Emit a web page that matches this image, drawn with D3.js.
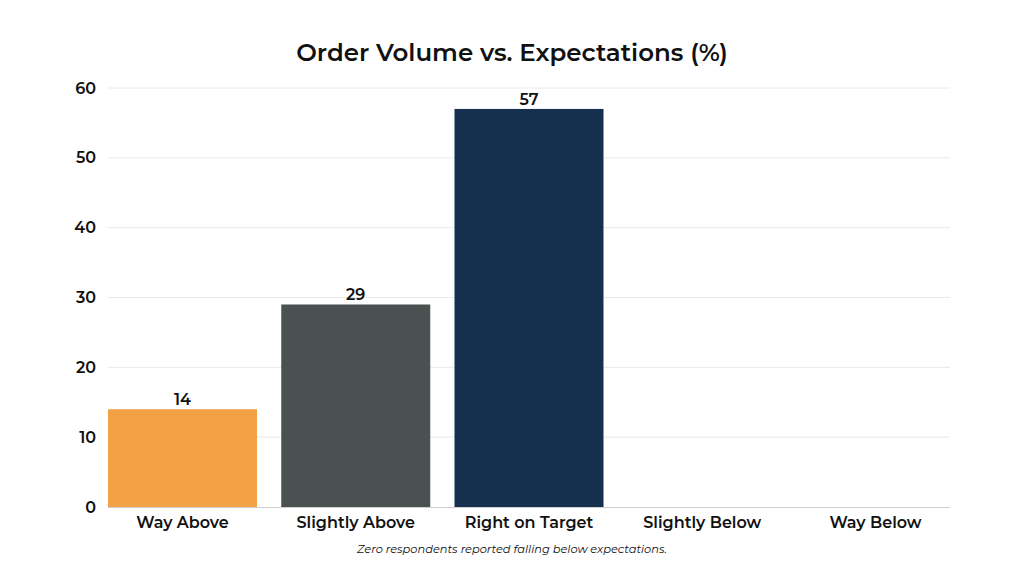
<!DOCTYPE html>
<html>
<head>
<meta charset="utf-8">
<script src="https://cdn.jsdelivr.net/npm/d3@7"></script>
<style>
  body { margin: 0; background: #fff; }
  text { font-family: Montserrat, "Noto Sans", sans-serif; fill: #111; }
</style>
</head>
<body>
<script>
// chart data
var categories = ["Way Above", "Slightly Above", "Right on Target", "Slightly Below", "Way Below"];
var values = [14, 29, 57, 0, 0];
var colors = ["#f2a144", "#4a5150", "#152f4e", "#152f4e", "#152f4e"];
var yTicks = [0, 10, 20, 30, 40, 50, 60];
var title = "Order Volume vs. Expectations (%)";
var footnote = "Zero respondents reported falling below expectations.";

var width = 1024, height = 576;
var svg = d3.select("body")
  .append("svg")
  .attr("width", width)
  .attr("height", height);

var x = d3.scaleBand()
  .domain(categories)
  .range([108, 950])
  .paddingInner(0.14)
  .paddingOuter(0);

var y = d3.scaleLinear()
  .domain([0, 60])
  .range([507, 88]);

// gridlines
svg.append("g")
  .selectAll("line")
  .data(yTicks.slice(1))
  .enter()
  .append("line")
  .attr("x1", 108)
  .attr("x2", 950)
  .attr("y1", function(d){ return y(d); })
  .attr("y2", function(d){ return y(d); })
  .attr("stroke", "#e8e8e8")
  .attr("stroke-width", 1);

// y axis labels
var yAxis = svg.append("g")
  .attr("transform", "translate(108,0)")
  .call(d3.axisLeft(y).tickValues(yTicks).tickSize(0).tickPadding(12));
yAxis.select(".domain").remove();
yAxis.selectAll("text")
  .style("font-size", "16px")
  .style("font-weight", "600")
  .attr("fill", "#111");

// bars
svg.append("g")
  .selectAll("rect")
  .data(values)
  .enter()
  .append("rect")
  .attr("x", function(d, i){ return x(categories[i]); })
  .attr("y", function(d){ return y(d); })
  .attr("width", x.bandwidth())
  .attr("height", function(d){ return y(0) - y(d); })
  .attr("fill", function(d, i){ return colors[i]; });

// value labels
svg.append("g")
  .selectAll("text")
  .data(values)
  .enter()
  .filter(function(d){ return d > 0; })
  .append("text")
  .attr("x", function(d){ return x(categories[values.indexOf(d)]) + x.bandwidth() / 2; })
  .attr("y", function(d){ return y(d) - 4; })
  .attr("text-anchor", "middle")
  .style("font-size", "16px")
  .style("font-weight", "600")
  .text(function(d){ return d; });

// x axis
var xAxis = svg.append("g")
  .attr("transform", "translate(0,507)")
  .call(d3.axisBottom(x).tickSize(0).tickPadding(10));
xAxis.select(".domain")
  .attr("stroke", "#cfcfcf")
  .attr("d", "M108,0.5H950");
xAxis.selectAll("text")
  .style("font-size", "16px")
  .style("font-weight", "600")
  .attr("fill", "#111");

// title
svg.append("text")
  .attr("x", 512)
  .attr("y", 61)
  .attr("text-anchor", "middle")
  .style("font-size", "24.5px")
  .style("font-weight", "600")
  .text(title);

// footnote
svg.append("text")
  .attr("x", 512)
  .attr("y", 553)
  .attr("text-anchor", "middle")
  .style("font-size", "11.4px")
  .style("font-style", "italic")
  .attr("fill", "#333")
  .text(footnote);
</script>
</body>
</html>
